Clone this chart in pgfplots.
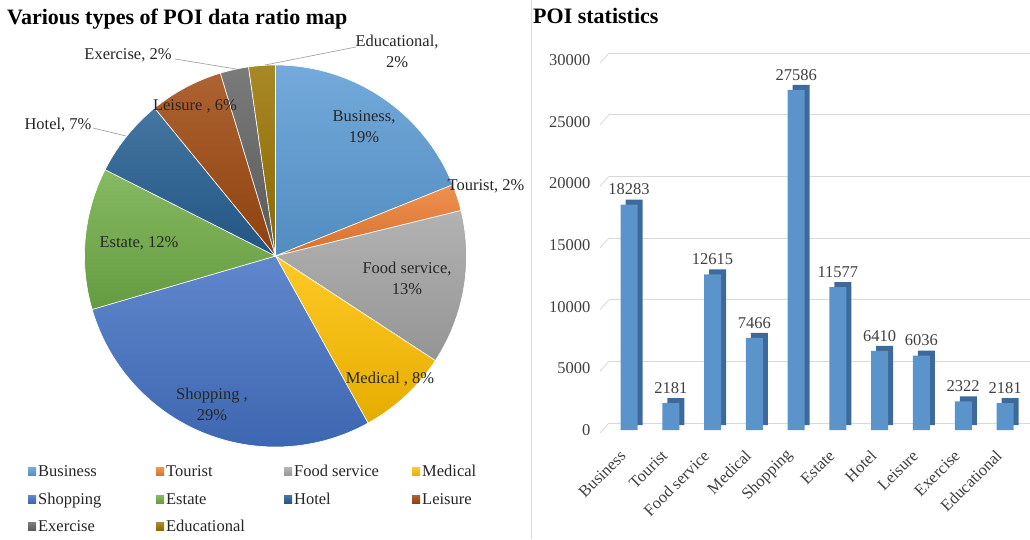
\documentclass[border=0pt]{standalone}
\usepackage{fontspec}
\setmainfont{Liberation Serif}
\usepackage{pgfplots}
\pgfplotsset{compat=1.18}
\usepackage{pgfplotstable}
\definecolor{cBus}{HTML}{5B9BD5}
\definecolor{cTou}{HTML}{ED7D31}
\definecolor{cFood}{HTML}{A5A5A5}
\definecolor{cMed}{HTML}{FFC000}
\definecolor{cShop}{HTML}{4472C4}
\definecolor{cEst}{HTML}{70AD47}
\definecolor{cHot}{HTML}{255E91}
\definecolor{cLei}{HTML}{9E480E}
\definecolor{cExe}{HTML}{636363}
\definecolor{cEdu}{HTML}{997300}
\definecolor{barfront}{HTML}{5B94CB}
\definecolor{barside}{HTML}{3D6A9A}
\definecolor{gridc}{HTML}{D9D9D9}
\definecolor{leader}{HTML}{A6A6A6}
\definecolor{txt}{HTML}{404040}
\newcommand\lblfont{\fontsize{16.5}{21}\selectfont}
\newcommand\titlefont{\fontsize{22}{24}\selectfont\bfseries}

% POI counts
\pgfplotstableread{
idx val
0 18283
1 2181
2 12615
3 7466
4 27586
5 11577
6 6410
7 6036
8 2322
9 2181
}\poidata
\def\vA{18283}\def\vB{2181}\def\vC{12615}\def\vD{7466}\def\vE{27586}
\def\vF{11577}\def\vG{6410}\def\vH{6036}\def\vI{2322}\def\vJ{2181}
\edef\tot{\fpeval{\vA+\vB+\vC+\vD+\vE+\vF+\vG+\vH+\vI+\vJ}}
\edef\aA{90}
\edef\aB{\fpeval{\aA-360*\vA/\tot}}
\edef\aC{\fpeval{\aB-360*\vB/\tot}}
\edef\aD{\fpeval{\aC-360*\vC/\tot}}
\edef\aE{\fpeval{\aD-360*\vD/\tot}}
\edef\aF{\fpeval{\aE-360*\vE/\tot}}
\edef\aG{\fpeval{\aF-360*\vF/\tot}}
\edef\aH{\fpeval{\aG-360*\vG/\tot}}
\edef\aI{\fpeval{\aH-360*\vH/\tot}}
\edef\aJ{\fpeval{\aI-360*\vI/\tot}}
\edef\aK{\fpeval{\aJ-360*\vJ/\tot}}

\pgfplotsset{
  slice/.style={draw=white, line width=0.6pt, top color=#1!85!white, bottom color=#1!90!black, samples=60, variable=\t},
}

\begin{document}
\begin{tikzpicture}[x=1pt,y=1pt]
\useasboundingbox (0pt,0pt) rectangle (1030pt,539pt);
\fill[white] (0pt,0pt) rectangle (1030pt,539pt);

% titles
\node[anchor=base west, font=\titlefont, inner sep=0pt] at (7pt,514pt) {Various types of POI data ratio map};
\node[anchor=base west, font=\titlefont, inner sep=0pt] at (533pt,515pt) {POI statistics};
\draw[gridc, line width=0.8pt] (531pt,0pt) -- (531pt,539pt);

% ---------------- pie ----------------
\begin{axis}[at={(275.5pt,283pt)}, anchor=center, scale only axis, width=382pt, height=382pt,
  xmin=-1, xmax=1, ymin=-1, ymax=1, hide axis, clip=false,
  area legend,
  legend columns=4,
  legend cell align=left,
  legend image code/.code={\fill[#1, draw=none] (0pt,-4pt) rectangle (8pt,4pt);},
  legend style={draw=none, fill=none, at={(-0.148,-0.0425)}, anchor=north west,
    font=\lblfont, column sep=0pt, row sep=10.5pt, inner sep=0pt,
    nodes={inner sep=2pt, text=black!85}},
]
\addplot[slice=cBus, domain=\aB:\aA] ({cos(\t)},{sin(\t)}) -- (axis cs:0,0) -- cycle;
\addlegendentry{\makebox[116pt][l]{Business}}
\addplot[slice=cTou, domain=\aC:\aB] ({cos(\t)},{sin(\t)}) -- (axis cs:0,0) -- cycle;
\addlegendentry{\makebox[116pt][l]{Tourist}}
\addplot[slice=cFood, domain=\aD:\aC] ({cos(\t)},{sin(\t)}) -- (axis cs:0,0) -- cycle;
\addlegendentry{\makebox[116pt][l]{Food service}}
\addplot[slice=cMed, domain=\aE:\aD] ({cos(\t)},{sin(\t)}) -- (axis cs:0,0) -- cycle;
\addlegendentry{\makebox[116pt][l]{Medical}}
\addplot[slice=cShop, domain=\aF:\aE] ({cos(\t)},{sin(\t)}) -- (axis cs:0,0) -- cycle;
\addlegendentry{\makebox[116pt][l]{Shopping}}
\addplot[slice=cEst, domain=\aG:\aF] ({cos(\t)},{sin(\t)}) -- (axis cs:0,0) -- cycle;
\addlegendentry{\makebox[116pt][l]{Estate}}
\addplot[slice=cHot, domain=\aH:\aG] ({cos(\t)},{sin(\t)}) -- (axis cs:0,0) -- cycle;
\addlegendentry{\makebox[116pt][l]{Hotel}}
\addplot[slice=cLei, domain=\aI:\aH] ({cos(\t)},{sin(\t)}) -- (axis cs:0,0) -- cycle;
\addlegendentry{\makebox[116pt][l]{Leisure}}
\addplot[slice=cExe, domain=\aJ:\aI] ({cos(\t)},{sin(\t)}) -- (axis cs:0,0) -- cycle;
\addlegendentry{\makebox[116pt][l]{Exercise}}
\addplot[slice=cEdu, domain=\aK:\aJ] ({cos(\t)},{sin(\t)}) -- (axis cs:0,0) -- cycle;
\addlegendentry{\makebox[116pt][l]{Educational}}
\end{axis}

% pie labels
\begin{scope}[every node/.style={font=\lblfont, text=black!85, align=center, inner sep=0pt}]
\node at (364pt,412pt) {Business,\\19\%};
\node at (486pt,353pt) {Tourist, 2\%};
\node at (407pt,261pt) {Food service,\\13\%};
\node at (390pt,160pt) {Medical , 8\%};
\node at (212pt,135pt) {Shopping ,\\29\%};
\node at (139pt,296pt) {Estate, 12\%};
\node at (58pt,414pt) {Hotel, 7\%};
\node at (195pt,433pt) {Leisure , 6\%};
\node at (128pt,484pt) {Exercise, 2\%};
\node at (397pt,488pt) {Educational,\\2\%};
\end{scope}
\draw[leader, line width=0.7pt] (175pt,480pt) -- (236pt,470pt);
\draw[leader, line width=0.7pt] (265pt,474pt) -- (356pt,492pt);
\draw[leader, line width=0.7pt] (93pt,411pt) -- (126pt,403pt);

% ---------------- bars ----------------
\begin{axis}[at={(600pt,109pt)}, anchor=south west, scale only axis, width=430pt, height=370pt,
  xmin=-0.694, xmax=9.598, ymin=0, ymax=30000, clip=false,
  axis line style={draw=none}, tick style={draw=none},
  ytick={0,5000,...,30000},
  scaled y ticks=false,
  ymajorgrids, major grid style={gridc, line width=0.8pt, xshift=9pt, yshift=7pt},
  yticklabel style={font=\lblfont, text=txt, xshift=-6pt, /pgf/number format/.cd, fixed, 1000 sep={}, assume math mode=true},
  xtick={0,...,9},
  xticklabels={Business,Tourist,Food service,Medical,Shopping,Estate,Hotel,Leisure,Exercise,Educational},
  xticklabel style={font=\lblfont, text=txt, anchor=east, inner sep=0pt, xshift=-6pt, yshift=-23pt, rotate=45},
]
\pgfplotsinvokeforeach{0,5000,10000,15000,20000,25000,30000}{
  \draw[gridc, line width=0.8pt] (axis cs:-0.694,#1) ++(0pt,-3pt) -- ++(9pt,10pt);
}
\addplot[ybar, bar width=17pt, bar shift=5pt, yshift=5pt, fill=barside, draw=none]
  table[x=idx, y=val] {\poidata};
\addplot[ybar, bar width=17pt, bar shift=0pt, fill=barfront, draw=none,
  nodes near coords,
  every node near coord/.style={font=\lblfont, text=txt, anchor=south, yshift=6pt,
    /pgf/number format/.cd, fixed, 1000 sep={}, assume math mode=true}]
  table[x=idx, y=val] {\poidata};
\end{axis}
\end{tikzpicture}
\end{document}
